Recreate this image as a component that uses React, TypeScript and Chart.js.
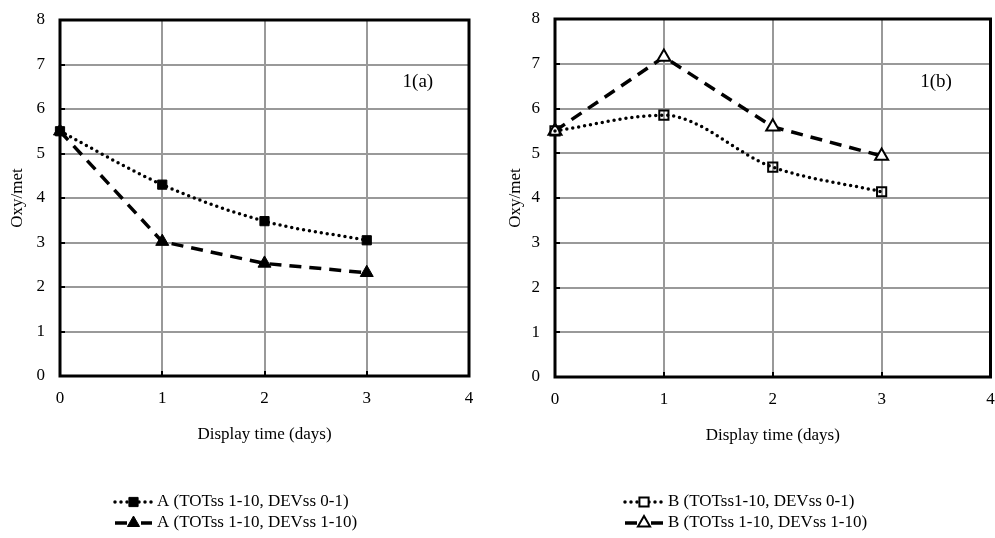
import React, { useEffect, useRef } from 'react';
import { Chart, registerables } from 'chart.js';
Chart.register(...registerables);

// ---- data ----
const days = [0, 1, 2, 3];
const xTickValues = [0, 1, 2, 3, 4];
const yTickValues = [0, 1, 2, 3, 4, 5, 6, 7, 8];
const seriesA1 = [5.5, 4.3, 3.48, 3.05];
const seriesA2 = [5.5, 3.02, 2.53, 2.32];
const seriesB1 = [5.5, 5.85, 4.69, 4.14];
const seriesB2 = [5.5, 7.15, 5.59, 4.94];
const labelsA = ['A (TOTss 1-10, DEVss 0-1)', 'A (TOTss 1-10, DEVss 1-10)'];
const labelsB = ['B (TOTss1-10, DEVss 0-1)', 'B (TOTss 1-10, DEVss 1-10)'];
const panelTags = ['1(a)', '1(b)'];
const tagAt = [3.5, 6.6];
const xTitle = 'Display time (days)';
const yTitle = 'Oxy/met';

const FONT = '"Liberation Serif", "Times New Roman", serif';
const FS = 17;

function drawMarker(ctx: CanvasRenderingContext2D, style: string, hollow: boolean, x: number, y: number, r: number) {
  ctx.save();
  ctx.setLineDash([]);
  ctx.beginPath();
  if (style === 'rect') {
    const s = Math.SQRT1_2 * r;
    ctx.rect(x - s, y - s, 2 * s, 2 * s);
  } else {
    const a = 2 * Math.PI / 3;
    ctx.moveTo(x, y - r);
    ctx.lineTo(x + Math.sin(a) * r, y - Math.cos(a) * r);
    ctx.lineTo(x + Math.sin(2 * a) * r, y - Math.cos(2 * a) * r);
    ctx.closePath();
  }
  ctx.fillStyle = hollow ? '#ffffff' : '#000000';
  ctx.strokeStyle = '#000000';
  ctx.lineWidth = hollow ? 2 : 1;
  ctx.fill();
  ctx.stroke();
  ctx.restore();
}

const decorPlugin = {
  id: 'decor',
  beforeDatasetsDraw(chart: any) {
    const { ctx, chartArea: a, scales } = chart;
    ctx.save();
    ctx.strokeStyle = '#000';
    ctx.lineWidth = 2;
    ctx.beginPath();
    yTickValues.slice(1, -1).forEach((v) => {
      const py = Math.round(scales.y.getPixelForValue(v));
      ctx.moveTo(a.left, py);
      ctx.lineTo(a.left + 5, py);
    });
    xTickValues.slice(1, -1).forEach((v) => {
      const px = Math.round(scales.x.getPixelForValue(v));
      ctx.moveTo(px, a.bottom);
      ctx.lineTo(px, a.bottom - 5);
    });
    ctx.stroke();
    ctx.lineWidth = 3;
    ctx.strokeRect(a.left, a.top, a.right - a.left, a.bottom - a.top);
    ctx.restore();
  },
  afterDraw(chart: any, _args: any, opts: any) {
    const { ctx, scales } = chart;
    ctx.save();
    ctx.fillStyle = '#000';
    ctx.font = `19px ${FONT}`;
    ctx.textAlign = 'center';
    ctx.textBaseline = 'middle';
    ctx.fillText(opts.tag, scales.x.getPixelForValue(tagAt[0]), scales.y.getPixelForValue(tagAt[1]));

    const lg = opts.legend;
    chart.data.datasets.forEach((ds: any, i: number) => {
      const y = lg.rows[i];
      ctx.save();
      ctx.strokeStyle = '#000';
      if (ds.dotted) {
        ctx.lineWidth = 3.5;
        ctx.lineCap = 'round';
        ctx.setLineDash([0, 6]);
      } else {
        ctx.lineWidth = 3.5;
        ctx.lineCap = 'butt';
        ctx.setLineDash([12, 14]);
      }
      ctx.beginPath();
      ctx.moveTo(lg.x1, y);
      ctx.lineTo(lg.x2, y);
      ctx.stroke();
      ctx.restore();
      drawMarker(ctx, ds.pointStyle, ds.hollow, (lg.x1 + lg.x2) / 2, y, ds.pointStyle === 'rect' ? 6.5 : 7);
      ctx.fillStyle = '#000';
      ctx.font = `${FS}px ${FONT}`;
      ctx.textAlign = 'left';
      ctx.textBaseline = 'middle';
      ctx.fillText(ds.label, lg.tx, y);
    });
    ctx.restore();
  },
};

function makeDataset(label: string, values: number[], dotted: boolean, style: string, hollow: boolean) {
  return {
    label,
    data: days.map((d, i) => ({ x: d, y: values[i] })),
    dotted,
    hollow,
    borderColor: '#000',
    borderWidth: 3.5,
    borderDash: dotted ? [0, 6] : [12, 8],
    borderCapStyle: dotted ? 'round' : 'butt',
    cubicInterpolationMode: dotted ? 'monotone' : 'default',
    tension: 0,
    pointStyle: style,
    pointRadius: style === 'rect' ? 6.5 : 7.5,
    pointBackgroundColor: hollow ? (style === 'rect' ? 'rgba(255,255,255,0)' : '#ffffff') : '#000',
    pointBorderColor: '#000',
    pointBorderWidth: hollow ? 2 : 1,
    fill: false,
    clip: false,
  };
}

function makeConfig(p: any) {
  return {
    type: 'line',
    data: {
      datasets: [
        makeDataset(p.labels[0], p.s1, true, 'rect', p.hollow),
        makeDataset(p.labels[1], p.s2, false, 'triangle', p.hollow),
      ],
    },
    plugins: [decorPlugin],
    options: {
      responsive: false,
      animation: false,
      devicePixelRatio: 1,
      layout: { padding: { left: 0, top: p.top, right: p.right, bottom: p.bottom } },
      plugins: {
        legend: { display: false },
        tooltip: { enabled: false },
        decor: { tag: p.tag, legend: p.legend },
      },
      scales: {
        x: {
          type: 'linear',
          min: 0,
          max: 4,
          afterBuildTicks: (s: any) => { s.ticks = xTickValues.map((v) => ({ value: v })); },
          afterFit: (s: any) => { s.height = 80; s.paddingLeft = 0; s.paddingRight = 0; },
          ticks: { color: '#000', font: { family: FONT, size: FS }, padding: 12, maxRotation: 0, autoSkip: false },
          grid: { color: '#999', lineWidth: 2, drawTicks: false },
          border: { display: false },
          title: { display: true, text: xTitle, color: '#000', font: { family: FONT, size: FS }, padding: { top: 0, bottom: 11 } },
        },
        y: {
          type: 'linear',
          min: 0,
          max: 8,
          afterBuildTicks: (s: any) => { s.ticks = yTickValues.map((v) => ({ value: v })); },
          afterFit: (s: any) => { s.width = p.yw; s.paddingTop = 0; s.paddingBottom = 0; },
          ticks: { color: '#000', font: { family: FONT, size: FS }, padding: 15, autoSkip: false },
          grid: { color: '#999', lineWidth: 2, drawTicks: false },
          border: { display: false },
          title: { display: true, text: yTitle, color: '#000', font: { family: FONT, size: FS }, padding: { top: p.ytp, bottom: 0 } },
        },
      },
    },
  };
}

function Panel(props: { left: number; width: number; cfg: any }) {
  const ref = useRef<HTMLCanvasElement | null>(null);
  useEffect(() => {
    if (!ref.current) return;
    const chart = new Chart(ref.current, props.cfg as any);
    return () => chart.destroy();
  }, []);
  return (
    <canvas
      ref={ref}
      width={props.width}
      height={538}
      style={{ position: 'absolute', left: props.left, top: 0, width: props.width, height: 538, display: 'block' }}
    />
  );
}

const cfgA = makeConfig({
  s1: seriesA1, s2: seriesA2, labels: labelsA, tag: panelTags[0], hollow: false,
  top: 20, right: 28, bottom: 538 - 376 - 80, yw: 60, ytp: 7,
  legend: { x1: 115, x2: 152, tx: 157, rows: [502, 523] },
});
const cfgB = makeConfig({
  s1: seriesB1, s2: seriesB2, labels: labelsB, tag: panelTags[1], hollow: true,
  top: 19, right: 4, bottom: 538 - 377 - 80, yw: 58, ytp: 8,
  legend: { x1: 128, x2: 166, tx: 171, rows: [502, 523] },
});

export default function App() {
  return (
    <div style={{ position: 'fixed', left: 0, top: 0, width: 995, height: 538, background: '#fff', overflow: 'hidden' }}>
      <Panel left={0} width={497} cfg={cfgA} />
      <Panel left={497} width={503} cfg={cfgB} />
    </div>
  );
}
